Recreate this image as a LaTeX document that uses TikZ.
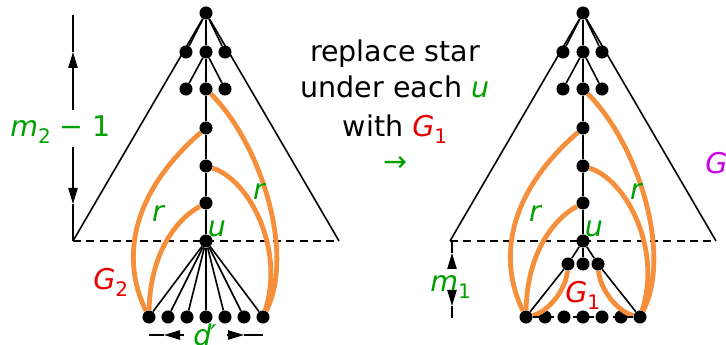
\documentclass[tikz,border=0pt]{standalone}
\usepackage{fontspec}
\setmainfont{DejaVu Sans}
\usetikzlibrary{arrows.meta}
\definecolor{gr}{RGB}{0,160,0}
\definecolor{rd}{RGB}{230,0,0}
\definecolor{orng}{RGB}{245,143,60}
\definecolor{mg}{RGB}{204,0,230}
\newcommand\sbs[1]{\raisebox{-0.22em}{\fontsize{15pt}{15pt}\selectfont #1}}
\begin{document}
\begin{tikzpicture}[x=0.75pt,y=-0.75pt,
 dot/.style={circle,fill=black,inner sep=0pt,minimum size=9.8pt},
 edge/.style={line width=1.2pt},
 arc/.style={draw=orng,line width=3.6pt},
 dsh/.style={line width=1.2pt,dash pattern=on 6pt off 4pt},
 lbl/.style={text=gr,font=\fontsize{21.4pt}{28.5pt}\selectfont\itshape,inner sep=0pt},
 txt/.style={font=\fontsize{21.4pt}{28.5pt}\selectfont,inner sep=0pt},
 dim/.style={line width=0.9pt},
 dimtip/.style={dim,-{Triangle[length=12pt,width=7pt]}}]
\useasboundingbox (0,0) rectangle (726,345);

\foreach \p/\x in {L/206,R/583}{
  \node[dot] (\p r) at (\x,13) {};
  \node[dot] (\p a1) at (\x-20,52) {};
  \node[dot] (\p a2) at (\x,52) {};
  \node[dot] (\p a3) at (\x+19,52) {};
  \node[dot] (\p b1) at (\x-20,89) {};
  \node[dot] (\p b2) at (\x,89) {};
  \node[dot] (\p b3) at (\x+19,89) {};
  \node[dot] (\p c1) at (\x,128) {};
  \node[dot] (\p c2) at (\x,166) {};
  \node[dot] (\p c3) at (\x,203) {};
  \node[dot] (\p u) at (\x,241) {};
  \foreach \i/\dx in {1/-57,2/-38,3/-19,4/0,5/19,6/38,7/57}{
    \node[dot] (\p l\i) at (\x+\dx,317) {};
  }
  \coordinate (\p cl) at (\x-133,241);
  \coordinate (\p cr) at (\x+133,241);
  \draw[edge] (\p cl) -- (\p r) -- (\p cr);
  \draw[edge] (\p r) -- (\p a1);
  \draw[edge] (\p r) -- (\p a3);
  \draw[edge] (\p a2) -- (\p b1);
  \draw[edge] (\p a2) -- (\p b3);
  \draw[edge] (\p r) -- (\p a2) -- (\p b2) -- (\p c1) -- (\p c2) -- (\p c3) -- (\p u);
  \draw[dsh] (\p cl) -- (\p cr);
  \draw[arc] (\p c1) .. controls (\x-74,192) and (\x-86,258) .. (\p l1);
  \draw[arc] (\p c3) .. controls (\x-31,220) and (\x-56,255) .. (\p l1);
  \draw[arc] (\p b2) .. controls (\x+56,145) and (\x+89,255) .. (\p l7);
  \draw[arc] (\p c2) .. controls (\x+44,180) and (\x+79,250) .. (\p l7);
  \node[lbl] (\p rl) at (\x-48,214) {r};
  \node[lbl] (\p rr) at (\x+53,192) {r};
  \node[lbl] (\p ul) at (\x+11,229) {u};
}

% left tree star
\foreach \i in {1,...,7}{ \draw[edge] (Lu) -- (Ll\i); }

% right tree G1
\node[dot] (Rs1) at (568,264) {};
\node[dot] (Rs2) at (583,264) {};
\node[dot] (Rs3) at (598,264) {};
\draw[edge] (Ru) -- (Rs1);
\draw[edge] (Ru) -- (Rs2);
\draw[edge] (Ru) -- (Rs3);
\draw[edge] (Rs1) -- (Rl1);
\draw[edge] (Rs3) -- (Rl7);
\draw[arc] (Rs1) .. controls (566,290) and (548,312) .. (Rl1);
\draw[arc] (Rs3) .. controls (600,290) and (618,312) .. (Rl7);
\draw[dsh] (Rl1) -- (Rl7);

% labels
\node[lbl,text=rd,anchor=base west] (g2) at (93,290) {G\sbs{\upshape 2}};
\node[lbl,text=rd,anchor=base west] (g1) at (565,303) {G\sbs{\upshape 1}};
\node[lbl,text=mg,anchor=base west] (gg) at (705,174) {G};
\node[lbl,anchor=base west] (m2) at (10,137) {m\sbs{\upshape 2}\upshape\ − 1};
\node[lbl,anchor=base west] (m1) at (430,292) {m\sbs{\upshape 1}};
\node[lbl,anchor=base] (dp) at (205,346) {d\kern-0.05em′};

% middle text
\node[txt,anchor=base] (t1) at (395,62) {replace star};
\node[txt,anchor=base] (t2) at (395,98) {under each \textcolor{gr}{\itshape u}};
\node[txt,anchor=base] (t3) at (395,137) {with \textcolor{rd}{\itshape G\sbs{\upshape 1}}};
\node[txt,text=gr] (t4) at (395,164) {→};

% dimension arrows
\coordinate (m2a) at (73,15);
\coordinate (m2b) at (73,52);
\coordinate (m2c) at (73,110);
\coordinate (m2d) at (73,147);
\coordinate (m2e) at (73,204);
\draw[dimtip] (m2c) -- (m2b);
\draw[dim] (m2b) -- (m2a);
\draw[dimtip] (m2d) -- (m2e);
\draw[dim] (m2e) -- (Lcl);

\coordinate (m1a) at (452,241);
\coordinate (m1b) at (452,253);
\coordinate (m1c) at (452,268);
\coordinate (m1d) at (452,291);
\coordinate (m1e) at (452,306);
\coordinate (m1f) at (452,318);
\draw[dimtip] (m1c) -- (m1b);
\draw[dim] (m1b) -- (m1a);
\draw[dimtip] (m1d) -- (m1e);
\draw[dim] (m1e) -- (m1f);

\coordinate (da) at (149,335);
\coordinate (db) at (164,335);
\coordinate (dc) at (184,335);
\coordinate (dd) at (227,335);
\coordinate (de) at (244,335);
\coordinate (df) at (263,335);
\draw[dimtip] (dc) -- (db);
\draw[dim] (db) -- (da);
\draw[dimtip] (dd) -- (de);
\draw[dim] (de) -- (df);
\end{tikzpicture}
\end{document}
